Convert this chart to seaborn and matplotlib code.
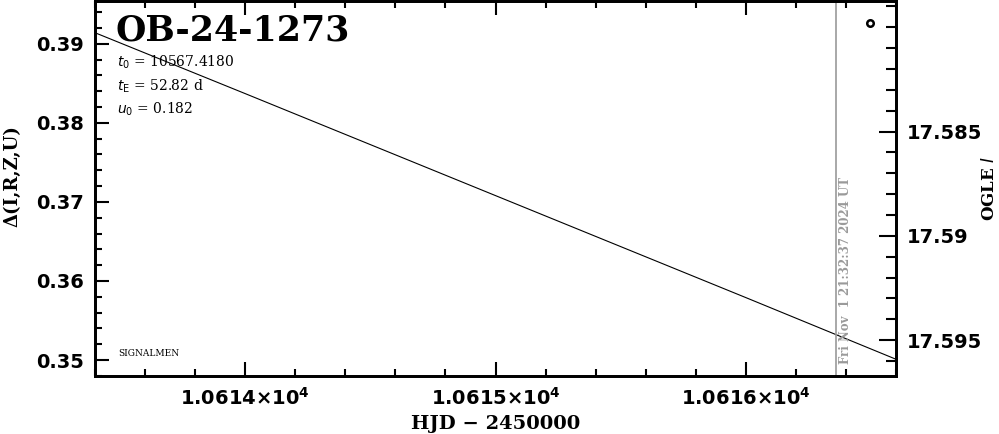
import numpy as np
import pandas as pd
import matplotlib
matplotlib.use("Agg")
import matplotlib.pyplot as plt
import seaborn as sns
from matplotlib.ticker import MultipleLocator, FixedLocator, FuncFormatter

sns.set_style("white")
plt.rcParams['font.family'] = ['DejaVu Sans']
for k in ['text.color', 'axes.edgecolor', 'xtick.color', 'ytick.color', 'axes.labelcolor']:
    plt.rcParams[k] = 'black'

# model curve (HJD - 2450000, delta mag)
hjd = [10613.40, 10614.0, 10615.0, 10616.0, 10616.60]
delta = [0.3914, 0.3837, 0.3708, 0.3579, 0.3501]

# OGLE point
ogle_hjd = [10616.495]
ogle_mag = [17.5798]

now_hjd = 10616.362
now_text = "Fri Nov  1 21:32:37 2024 UT"

event = "OB-24-1273"
params = [r"$t_0$ = 10567.4180", r"$t_{\rm E}$ = 52.82 d", r"$u_0$ = 0.182"]

df = pd.DataFrame({"hjd": hjd, "delta": delta})
df_ogle = pd.DataFrame({"hjd": ogle_hjd, "mag": ogle_mag})

fig = plt.figure(figsize=(9.99, 4.34), dpi=100)
ax = fig.add_axes([0.0951, 0.1336, 0.8018, 0.8644])

sns.lineplot(data=df, x="hjd", y="delta", ax=ax, color="black", lw=0.8)
ax.set_xlim(10613.40, 10616.60)
ax.set_ylim(0.34798, 0.39543)

ax.axvline(now_hjd, color="#9a9a9a", lw=1.2)
ax.text(now_hjd + 0.035, 0.3495, now_text, rotation=90, color="#9a9a9a",
        fontsize=8.5, fontweight="bold", family="DejaVu Serif", va="bottom", ha="center")

ax.xaxis.set_major_locator(MultipleLocator(1.0))
ax.xaxis.set_minor_locator(MultipleLocator(0.2))
ax.xaxis.set_major_formatter(FuncFormatter(
    lambda v, p: r"$\mathbf{%.4f{\times}10^{4}}$" % (v / 1e4)))
ax.yaxis.set_major_locator(MultipleLocator(0.01))
ax.yaxis.set_minor_locator(MultipleLocator(0.002))
ax.yaxis.set_major_formatter(FuncFormatter(lambda v, p: "%.2f" % v))

ax.tick_params(which="both", direction="in", top=True, bottom=True,
               left=True, right=False, width=1.5, labelsize=14, pad=8)
ax.tick_params(which="major", length=10)
ax.tick_params(which="minor", length=5)
for lab in ax.get_yticklabels():
    lab.set_fontweight("bold")
for sp in ax.spines.values():
    sp.set_linewidth(2)

ax.set_xlabel("HJD − 2450000", fontsize=14, fontweight="bold", family="DejaVu Serif")
ax.set_ylabel("")
fig.text(0.0125, 0.594, "Δ(I,R,Z,U)", rotation=90, fontsize=13,
         fontweight="bold", family="DejaVu Serif", ha="center", va="center")

ax2 = ax.twinx()
sns.scatterplot(data=df_ogle, x="hjd", y="mag", ax=ax2, marker="o", s=22,
                facecolor="white", edgecolor="black", linewidth=1.8)
ax2.set_ylim(17.59672, 17.57873)
ax2.yaxis.set_major_locator(FixedLocator([17.585, 17.59, 17.595]))
ax2.yaxis.set_minor_locator(MultipleLocator(0.001))
ax2.yaxis.set_major_formatter(FuncFormatter(lambda v, p: ("%.3f" % v).rstrip("0")))
ax2.tick_params(which="both", direction="in", right=True, width=1.5, labelsize=14, pad=8)
ax2.tick_params(which="major", length=12)
ax2.tick_params(which="minor", length=7)
for lab in ax2.get_yticklabels():
    lab.set_fontweight("bold")
ax2.set_ylabel("")
ax2.set_xlabel("")
fig.text(0.990, 0.567, r"OGLE $\mathit{I}$", rotation=90, fontsize=12,
         fontweight="bold", family="DejaVu Serif", ha="center", va="center")
for sp in ax2.spines.values():
    sp.set_linewidth(2)

ax.text(0.026, 0.965, event, transform=ax.transAxes, fontsize=25,
        fontweight="bold", family="DejaVu Serif", va="top", ha="left")
for i, s in enumerate(params):
    ax.text(0.027, 0.835 - i * 0.062, s, transform=ax.transAxes, fontsize=10,
            family="DejaVu Serif", va="center", ha="left")
ax.text(0.029, 0.06, "SIGNALMEN", transform=ax.transAxes, fontsize=6.5,
        family="DejaVu Serif", va="center", ha="left")

fig.savefig("out.png", dpi=100)
